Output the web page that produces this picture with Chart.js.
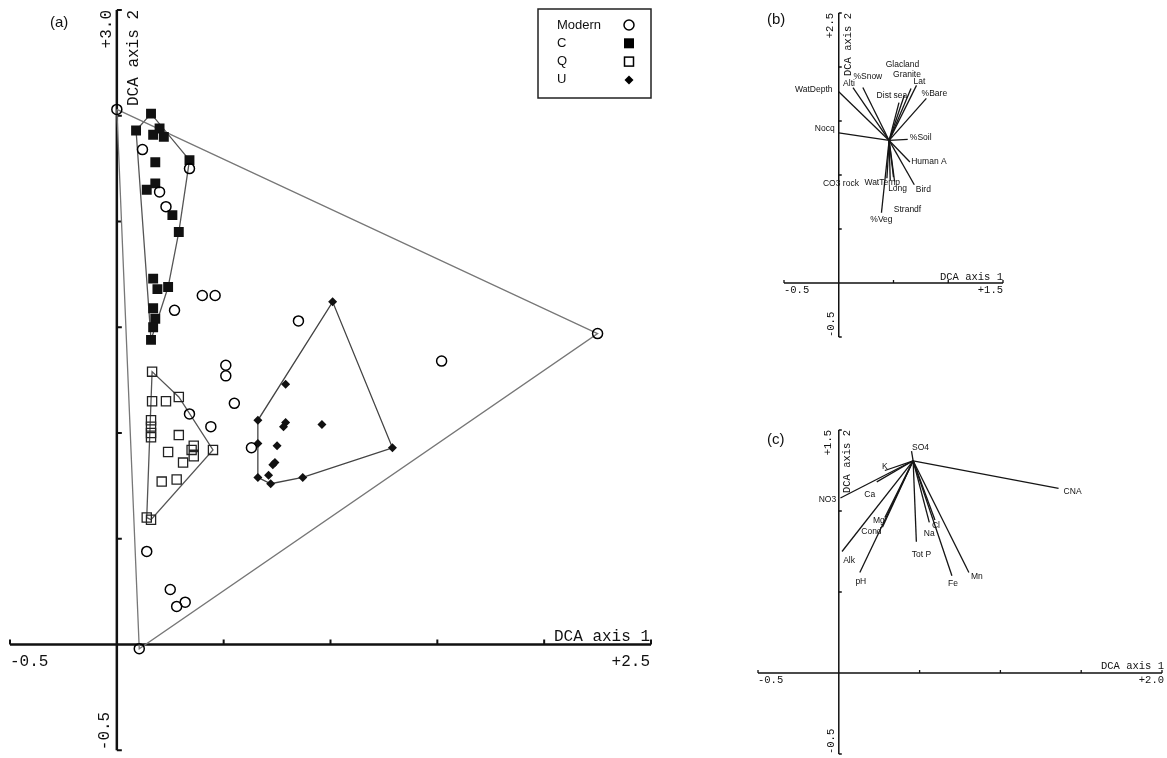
<!DOCTYPE html>
<html>
<head>
<meta charset="utf-8">
<script src="https://cdn.jsdelivr.net/npm/chart.js@4.4.0/dist/chart.umd.min.js"></script>
<style>
  html, body { margin: 0; padding: 0; background: #fff; }
  #wrap { position: relative; width: 1167px; height: 758px; overflow: hidden; }
  canvas { position: absolute; }
</style>
</head>
<body>
<div id="wrap">
  <canvas id="chartA" width="740" height="758" style="left:0;top:0"></canvas>
  <canvas id="chartB" width="427" height="380" style="left:740px;top:0"></canvas>
  <canvas id="chartC" width="427" height="358" style="left:740px;top:400px"></canvas>
</div>
<script>
/* =====================
   (a) DCA sample scores
===================== */
const modernX = [0.00, 2.25, 0.105, 0.12, 0.34, 0.20, 0.23, 0.40, 0.46, 0.27, 0.85, 1.52, 0.51, 0.51, 0.55, 0.34, 0.44, 0.63, 0.14, 0.25, 0.28, 0.32];
const modernY = [2.53, 1.47, -0.02, 2.34, 2.25, 2.14, 2.07, 1.65, 1.65, 1.58, 1.53, 1.34, 1.32, 1.27, 1.14, 1.09, 1.03, 0.93, 0.44, 0.26, 0.18, 0.20];

const cX = [0.16, 0.09, 0.20, 0.17, 0.22, 0.18, 0.34, 0.18, 0.14, 0.26, 0.29, 0.17, 0.19, 0.24, 0.17, 0.18, 0.17, 0.16];
const cY = [2.51, 2.43, 2.44, 2.41, 2.40, 2.28, 2.29, 2.18, 2.15, 2.03, 1.95, 1.73, 1.68, 1.69, 1.59, 1.54, 1.50, 1.44];

const qX = [0.165, 0.165, 0.23, 0.29, 0.16, 0.16, 0.16, 0.16, 0.29, 0.36, 0.35, 0.36, 0.24, 0.31, 0.45, 0.21, 0.28, 0.14, 0.16];
const qY = [1.29, 1.15, 1.15, 1.17, 1.06, 1.03, 1.00, 0.98, 0.99, 0.94, 0.92, 0.89, 0.91, 0.86, 0.92, 0.77, 0.78, 0.60, 0.59];

const uX = [1.01, 0.79, 0.66, 0.79, 0.78, 0.96, 0.66, 0.75, 0.74, 0.73, 1.29, 0.66, 0.71, 0.72, 0.87];
const uY = [1.62, 1.23, 1.06, 1.05, 1.03, 1.04, 0.95, 0.94, 0.86, 0.85, 0.93, 0.79, 0.80, 0.76, 0.79];

const legendNames = ['Modern', 'C', 'Q', 'U'];

const aXTicks = [-0.5, 0.5, 1.0, 1.5, 2.0, 2.5];
const aYTicks = [-0.5, 0.5, 1.0, 1.5, 2.0, 2.5, 3.0];
const aXTickLabels = ['-0.5', '+2.5'];
const aYTickLabels = ['-0.5', '+3.0'];

/* =====================
   (b) environmental vectors
===================== */
const bOrigin = [0.46, 1.32];
const bNames = ['WatDepth', 'Alti', '%Snow', 'Glacland', 'Granite', 'Dist sea', 'Lat', '%Bare', 'Nocq', '%Soil', 'Human A', 'Bird', 'Long', 'WatTemp', 'CO3 rock', '%Veg', 'Strandf'];
const bEndX = [0.00, 0.13, 0.22, 0.60, 0.66, 0.55, 0.71, 0.80, 0.00, 0.63, 0.65, 0.69, 0.51, 0.47, 0.44, 0.39, 0.50];
const bEndY = [1.77, 1.81, 1.81, 1.74, 1.80, 1.67, 1.83, 1.71, 1.39, 1.33, 1.12, 0.91, 0.94, 0.95, 0.97, 0.65, 0.98];
const bXTicks = [-0.5, 0.5, 1.0, 1.5];
const bYTicks = [-0.5, 0.5, 1.0, 1.5, 2.0, 2.5];
const bXTickLabels = ['-0.5', '+1.5'];
const bYTickLabels = ['-0.5', '+2.5'];

/* =====================
   (c) water chemistry vectors
===================== */
const cOrigin = [0.46, 1.31];
const cNames = ['SO4', 'CNA', 'K', 'NO3', 'Ca', 'Mg', 'Cond', 'Alk', 'pH', 'Tot P', 'Cl', 'Na', 'Fe', 'Mn'];
const cEndX = [0.45, 1.36, 0.285, 0.01, 0.235, 0.285, 0.27, 0.02, 0.13, 0.48, 0.595, 0.56, 0.70, 0.805];
const cEndY = [1.37, 1.14, 1.25, 1.08, 1.18, 0.96, 0.90, 0.75, 0.62, 0.81, 0.945, 0.93, 0.60, 0.62];
const cXTicks = [-0.5, 0.5, 1.0, 1.5, 2.0];
const cYTicks = [-0.5, 0.5, 1.0, 1.5];
const cXTickLabels = ['-0.5', '+2.0'];
const cYTickLabels = ['-0.5', '+1.5'];

// label offsets in px (layout only)
const bLabelOff = [[-25, -2], [-4, -4], [5, -11], [-2, -30], [-4, -14], [-7, -7], [3, -4], [8, -5], [-14, -4], [13, -2], [19, 0], [9, 5], [3, 7], [-8, 2], [-46, 5], [0, 7], [14, 32]];
const cLabelOff = [[9, -3], [14, 3], [0, -4], [-13, 2], [-7, 13], [-6, 3], [-11, 4], [7, 9], [1, 9], [5, 13], [1, 6], [0, 11], [1, 8], [8, 4]];

const MONO = '"Liberation Mono", "DejaVu Sans Mono", monospace';
const SANS = '"Liberation Sans", Arial, sans-serif';

/* =====================
   helpers
===================== */
function toPts(xs, ys) {
    return xs.map((x, i) => ({ x: x, y: ys[i] }));
}

// convex hull (monotone chain), closed
function convexHull(xs, ys) {
    const pts = toPts(xs, ys).sort((a, b) => a.x - b.x || a.y - b.y);
    const cross = (o, a, b) => (a.x - o.x) * (b.y - o.y) - (a.y - o.y) * (b.x - o.x);
    const lower = [];
    for (const p of pts) {
        while (lower.length >= 2 && cross(lower[lower.length - 2], lower[lower.length - 1], p) <= 0) lower.pop();
        lower.push(p);
    }
    const upper = [];
    for (let i = pts.length - 1; i >= 0; i--) {
        const p = pts[i];
        while (upper.length >= 2 && cross(upper[upper.length - 2], upper[upper.length - 1], p) <= 0) upper.pop();
        upper.push(p);
    }
    upper.pop(); lower.pop();
    const h = lower.concat(upper);
    h.push(h[0]);
    return h;
}

function hullSet(xs, ys, color) {
    return {
        data: convexHull(xs, ys), showLine: true, borderColor: color, borderWidth: 1.3,
        pointRadius: 0, fill: false, order: 3
    };
}

function vectorSets(origin, ex, ey) {
    return ex.map((x, i) => ({
        data: [{ x: origin[0], y: origin[1] }, { x: x, y: ey[i] }],
        showLine: true, borderColor: '#151515', borderWidth: 1.3, pointRadius: 0, fill: false
    }));
}

function drawSymbol(ctx, kind, x, y) {
    ctx.save();
    ctx.strokeStyle = '#000'; ctx.fillStyle = '#000'; ctx.lineWidth = 1.5;
    ctx.beginPath();
    if (kind === 0) { ctx.arc(x, y, 5, 0, Math.PI * 2); ctx.stroke(); }
    else if (kind === 1) { ctx.fillRect(x - 5, y - 5, 10, 10); }
    else if (kind === 2) { ctx.strokeRect(x - 4.5, y - 4.5, 9, 9); }
    else { ctx.moveTo(x, y - 4.5); ctx.lineTo(x + 4.5, y); ctx.lineTo(x, y + 4.5); ctx.lineTo(x - 4.5, y); ctx.closePath(); ctx.fill(); }
    ctx.restore();
}

/* =====================
   plugin: cross axes, texts, legend
===================== */
const decoPlugin = {
    id: 'deco',
    beforeDatasetsDraw(chart, args, o) {
        const ctx = chart.ctx, sx = chart.scales.x, sy = chart.scales.y;
        const x0 = sx.getPixelForValue(0), y0 = sy.getPixelForValue(0);
        const xl = sx.getPixelForValue(sx.min), xr = sx.getPixelForValue(sx.max);
        const yt = sy.getPixelForValue(sy.max), yb = sy.getPixelForValue(sy.min);
        ctx.save();
        ctx.strokeStyle = '#111';
        ctx.lineWidth = o.lw;
        ctx.beginPath();
        ctx.moveTo(xl, y0); ctx.lineTo(xr, y0);
        ctx.moveTo(x0, yt); ctx.lineTo(x0, yb);
        ctx.stroke();
        ctx.lineWidth = o.tw;
        ctx.beginPath();
        o.xTicks.forEach(v => {
            const p = sx.getPixelForValue(v);
            ctx.moveTo(p, y0); ctx.lineTo(p, y0 - o.tick);
        });
        o.yTicks.forEach(v => {
            const p = sy.getPixelForValue(v);
            ctx.moveTo(x0, p); ctx.lineTo(x0 + o.tick, p);
        });
        ctx.stroke();

        // axis texts
        ctx.fillStyle = '#111';
        ctx.font = o.font;
        ctx.textBaseline = 'alphabetic';
        ctx.textAlign = 'right';
        ctx.fillText('DCA axis 1', xr + o.titleDx, y0 - o.titleGap);
        ctx.textBaseline = 'top';
        ctx.textAlign = 'left';
        ctx.fillText(o.xLabels[0], xl, y0 + o.labelGap);
        ctx.textAlign = 'right';
        ctx.fillText(o.xLabels[1], xr + o.titleDx, y0 + o.labelGap);
        const rot = (txt, px, py, align) => {
            ctx.save();
            ctx.translate(px, py);
            ctx.rotate(-Math.PI / 2);
            ctx.textAlign = align;
            ctx.textBaseline = 'middle';
            ctx.fillText(txt, 0, 0);
            ctx.restore();
        };
        rot(o.yLabels[1], x0 - o.yGapL, yt, 'right');
        rot('DCA axis 2', x0 + o.yGapR, yt, 'right');
        rot(o.yLabels[0], x0 - o.yGapB, yb, 'left');

        // panel tag
        ctx.font = '15px ' + SANS;
        ctx.textAlign = 'left';
        ctx.textBaseline = 'middle';
        ctx.fillText(o.tag, o.tagAt[0], o.tagAt[1]);
        ctx.restore();
    },
    afterDatasetsDraw(chart, args, o) {
        const ctx = chart.ctx, sx = chart.scales.x, sy = chart.scales.y;
        ctx.save();
        if (o.names) {
            ctx.font = '8.5px ' + SANS;
            ctx.fillStyle = '#111';
            ctx.textAlign = 'center';
            ctx.textBaseline = 'middle';
            o.names.forEach((n, i) => {
                const px = sx.getPixelForValue(o.ex[i]) + o.off[i][0];
                const py = sy.getPixelForValue(o.ey[i]) + o.off[i][1];
                ctx.fillText(n, px, py);
            });
        }
        if (o.legend) {
            const L = o.legend;
            ctx.strokeStyle = '#222';
            ctx.lineWidth = 1.5;
            ctx.strokeRect(L.x, L.y, L.w, L.h);
            ctx.font = '13px ' + SANS;
            ctx.fillStyle = '#111';
            ctx.textAlign = 'left';
            ctx.textBaseline = 'middle';
            legendNames.forEach((n, i) => {
                const yy = L.y + 16 + i * 18.3;
                ctx.fillText(n, L.x + 19, yy);
                drawSymbol(ctx, i, L.x + 91, yy);
            });
        }
        ctx.restore();
    }
};

function makeChart(id, datasets, xr, yr, pad, deco) {
    return new Chart(document.getElementById(id), {
        type: 'scatter',
        data: { datasets },
        options: {
            responsive: false,
            animation: false,
            events: [],
            layout: { padding: pad },
            scales: {
                x: { type: 'linear', min: xr[0], max: xr[1], display: false },
                y: { type: 'linear', min: yr[0], max: yr[1], display: false }
            },
            plugins: { legend: { display: false }, tooltip: { enabled: false }, deco: deco }
        },
        plugins: [decoPlugin]
    });
}

/* =====================
   (a)
===================== */
const setsA = [
    { data: toPts(modernX, modernY), pointStyle: 'circle', pointRadius: 5, pointBorderWidth: 1.5,
      pointBorderColor: '#000', pointBackgroundColor: 'rgba(255,255,255,0)', order: 1 },
    { data: toPts(cX, cY), pointStyle: 'rect', pointRadius: 7, pointBorderWidth: 0,
      pointBorderColor: '#111', pointBackgroundColor: '#111', order: 1 },
    { data: toPts(qX, qY), pointStyle: 'rect', pointRadius: 6.5, pointBorderWidth: 1.3,
      pointBorderColor: '#222', pointBackgroundColor: 'rgba(255,255,255,0)', order: 1 },
    { data: toPts(uX, uY), pointStyle: 'rectRot', pointRadius: 4.5, pointBorderWidth: 0,
      pointBorderColor: '#111', pointBackgroundColor: '#111', order: 1 },
    hullSet(modernX, modernY, '#777'),
    hullSet(cX, cY, '#555'),
    hullSet(qX, qY, '#555'),
    hullSet(uX, uY, '#444')
];
makeChart('chartA', setsA, [-0.5, 2.5], [-0.5, 3.0], { left: 10, right: 89, top: 10, bottom: 6 }, {
    lw: 2.5, tw: 2, tick: 5, font: '16px ' + MONO,
    xTicks: aXTicks, yTicks: aYTicks, xLabels: aXTickLabels, yLabels: aYTickLabels,
    titleDx: -1, titleGap: 3, labelGap: 9, yGapL: 10, yGapR: 17, yGapB: 12,
    tag: '(a)', tagAt: [50, 23],
    legend: { x: 538, y: 9, w: 113, h: 89 }
});

/* =====================
   (b)
===================== */
makeChart('chartB', vectorSets(bOrigin, bEndX, bEndY), [-0.5, 1.5], [-0.5, 2.5], { left: 44, right: 164, top: 13, bottom: 43 }, {
    lw: 1.5, tw: 1.3, tick: 3, font: '10.5px ' + MONO,
    xTicks: bXTicks, yTicks: bYTicks, xLabels: bXTickLabels, yLabels: bYTickLabels,
    titleDx: 0, titleGap: 3, labelGap: 2, yGapL: 9, yGapR: 9, yGapB: 8,
    tag: '(b)', tagAt: [27, 20],
    names: bNames, ex: bEndX, ey: bEndY, off: bLabelOff
});

/* =====================
   (c)
===================== */
makeChart('chartC', vectorSets(cOrigin, cEndX, cEndY), [-0.5, 2.0], [-0.5, 1.5], { left: 18, right: 5, top: 30, bottom: 4 }, {
    lw: 1.5, tw: 1.3, tick: 3, font: '10.5px ' + MONO,
    xTicks: cXTicks, yTicks: cYTicks, xLabels: cXTickLabels, yLabels: cYTickLabels,
    titleDx: 2, titleGap: 4, labelGap: 2, yGapL: 11, yGapR: 8, yGapB: 8,
    tag: '(c)', tagAt: [27, 40],
    names: cNames, ex: cEndX, ey: cEndY, off: cLabelOff
});
</script>
</body>
</html>
